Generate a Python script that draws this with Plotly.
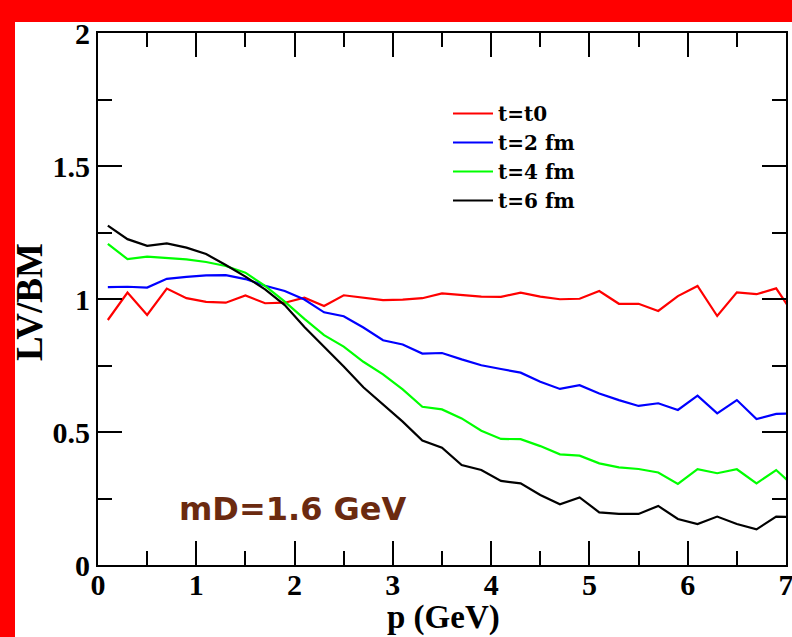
import plotly.graph_objects as go

# ---- data ----
p_values = [0.1, 0.3, 0.5, 0.7, 0.9, 1.1, 1.3, 1.5, 1.7, 1.9,
            2.1, 2.3, 2.5, 2.7, 2.9, 3.1, 3.3, 3.5, 3.7, 3.9,
            4.1, 4.3, 4.5, 4.7, 4.9, 5.1, 5.3, 5.5, 5.7, 5.9,
            6.1, 6.3, 6.5, 6.7, 6.9, 7.1]

ratio_t0 = [0.921, 1.024, 0.940, 1.039, 1.003, 0.989, 0.986, 1.013, 0.984, 0.986,
            1.005, 0.974, 1.014, 1.006, 0.996, 0.998, 1.003, 1.021, 1.014, 1.009,
            1.008, 1.024, 1.009, 0.999, 1.001, 1.030, 0.982, 0.982, 0.955, 1.011,
            1.049, 0.936, 1.025, 1.018, 1.040, 0.93]

ratio_t2 = [1.045, 1.046, 1.043, 1.076, 1.083, 1.089, 1.090, 1.075, 1.050, 1.030,
            0.998, 0.950, 0.935, 0.893, 0.845, 0.829, 0.795, 0.797, 0.773, 0.751,
            0.737, 0.723, 0.689, 0.662, 0.676, 0.645, 0.620, 0.598, 0.608, 0.583,
            0.637, 0.570, 0.620, 0.549, 0.568, 0.57]

ratio_t4 = [1.207, 1.150, 1.159, 1.155, 1.149, 1.139, 1.124, 1.099, 1.049, 0.990,
            0.925, 0.864, 0.821, 0.764, 0.717, 0.660, 0.595, 0.585, 0.551, 0.505,
            0.474, 0.473, 0.447, 0.416, 0.411, 0.382, 0.367, 0.361, 0.348, 0.305,
            0.360, 0.345, 0.360, 0.307, 0.357, 0.29]

ratio_t6 = [1.276, 1.225, 1.200, 1.209, 1.193, 1.169, 1.128, 1.084, 1.036, 0.977,
            0.895, 0.821, 0.746, 0.668, 0.602, 0.539, 0.468, 0.441, 0.376, 0.357,
            0.316, 0.307, 0.263, 0.228, 0.254, 0.198, 0.192, 0.192, 0.222, 0.173,
            0.154, 0.182, 0.154, 0.134, 0.182, 0.18]

series_names = ["t=t0", "t=2 fm", "t=4 fm", "t=6 fm"]
series_colors = ["#ff0000", "#0000ff", "#00ff00", "#000000"]
series_values = [ratio_t0, ratio_t2, ratio_t4, ratio_t6]

x_ticks = [0, 1, 2, 3, 4, 5, 6, 7]
y_ticks = [0, 0.5, 1, 1.5, 2]
y_tick_text = ["0", "0.5", "1", "1.5", "2"]

# ---- figure ----
fig = go.Figure()
for name, color, vals in zip(series_names, series_colors, series_values):
    fig.add_trace(go.Scatter(x=p_values, y=vals, mode="lines", name=name,
                             line=dict(color=color, width=2.2)))

serif = "Liberation Serif"
axis_common = dict(
    showline=True, linecolor="black", linewidth=2, mirror="ticks",
    ticks="inside", ticklen=24, tickwidth=2, tickcolor="black",
    showgrid=False, zeroline=False, automargin=False,
    ticklabeloverflow="allow",
    tickfont=dict(family=serif, size=30, color="black", weight="bold"),
)

fig.update_xaxes(
    range=[0, 7], tickvals=x_ticks, ticktext=[str(v) for v in x_ticks],
    ticklabelstandoff=-8,
    minor=dict(ticks="inside", ticklen=14, tickwidth=2, tickcolor="black", dtick=0.5, showgrid=False),
    **axis_common)
fig.update_yaxes(
    range=[0, 2], tickvals=y_ticks, ticktext=y_tick_text,
    minor=dict(ticks="inside", ticklen=14, tickwidth=2, tickcolor="black", dtick=0.25, showgrid=False),
    **axis_common)

L, R, T, B = 98, 6, 33, 72
W, H = 792, 637
pw, ph = W - L - R, H - T - B


def px_x(px):
    return (px - L) / pw


def px_y(py):
    return (H - B - py) / ph


# axis titles
fig.add_annotation(x=px_x(443), y=px_y(617), xref="paper", yref="paper", text="p (GeV)",
                   showarrow=False, xanchor="center", yanchor="middle",
                   font=dict(family=serif, size=33, color="black", weight="bold"))
fig.add_annotation(x=px_x(29), y=px_y(302), xref="paper", yref="paper", text="LV/BM",
                   showarrow=False, textangle=-90, xanchor="center", yanchor="middle",
                   font=dict(family=serif, size=37, color="black", weight="bold"))

fig.add_annotation(x=1.98, y=0.21, xref="x", yref="y", text="<b>mD=1.6 GeV</b>",
                   showarrow=False, font=dict(family="DejaVu Sans", size=32, color="#6b2a10"))

# red slide frame (top and left bands)
fig.add_shape(type="rect", xref="paper", yref="paper",
              x0=px_x(0), x1=px_x(W), y0=px_y(22), y1=px_y(0),
              fillcolor="#ff0000", line=dict(width=0), layer="above")
fig.add_shape(type="rect", xref="paper", yref="paper",
              x0=px_x(0), x1=px_x(15), y0=px_y(H), y1=px_y(0),
              fillcolor="#ff0000", line=dict(width=0), layer="above")

fig.update_layout(
    width=W, height=H,
    margin=dict(l=L, r=R, t=T, b=B, pad=0, autoexpand=False),
    paper_bgcolor="white", plot_bgcolor="white",
    showlegend=True,
    legend=dict(x=px_x(448), y=px_y(94), xanchor="left", yanchor="top",
                bgcolor="rgba(0,0,0,0)", borderwidth=0,
                font=dict(family="DejaVu Serif", size=20, color="black", weight="bold"),
                itemwidth=40, tracegroupgap=0),
)

fig.write_html("out.html", config={"displayModeBar": False},
               post_script="document.body.style.margin='0';document.body.style.overflow='hidden';")
